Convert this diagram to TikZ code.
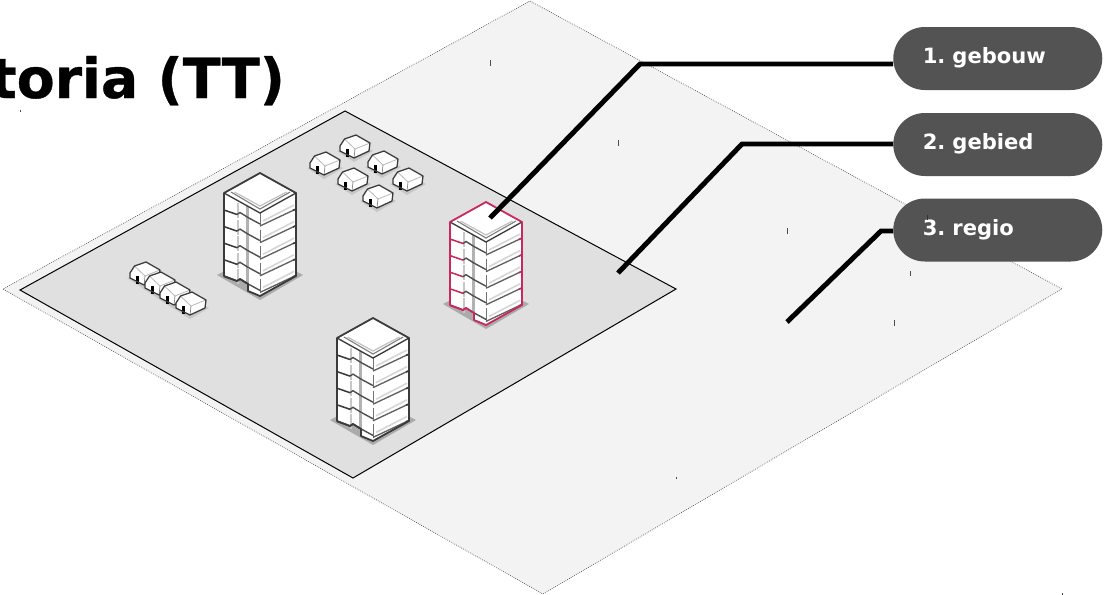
\documentclass[tikz,border=0pt]{standalone}
\usepackage{fontspec}
\setmainfont{DejaVu Sans}
\newfontfamily\titlefont[BoldFont={DejaVu Sans Bold},BoldFeatures={FakeBold=0.6}]{DejaVu Sans}
\frenchspacing
\definecolor{regiofill}{HTML}{F3F3F3}
\definecolor{gebiedfill}{HTML}{E0E0E0}
\definecolor{pillfill}{HTML}{535353}
\definecolor{bldline}{HTML}{3A3A3A}
\definecolor{redline}{HTML}{C8285A}
\definecolor{shadowgrey}{HTML}{ABABAB}
\tikzset{
  pill/.style={fill=pillfill,draw=none,rounded corners=31.5*0.75pt,minimum height=63*0.75pt,text=white,font=\bfseries\fontsize{15.8pt}{18pt}\selectfont,anchor=west,align=left,inner xsep=29.5*0.75pt,inner ysep=0pt,text width=150*0.75pt,text height=12pt,text depth=3.8pt},
  leader/.style={draw=black,line width=3.7pt,line join=miter},
  tick/.style={draw=black!70,line width=0.7pt},
  lbl/.style={inner sep=0pt}
}
\newcommand{\building}[3]{%
\begin{scope}[shift={(#1,#2)}]
  \fill[shadowgrey] (-43,102)--(-14,87)--(14,87)--(43,102)--(0,127)--cycle;
  \fill[white] (0,0)--(36,20)--(36,103)--(0,123)--(-12,118)--(-12,111)--(-20,106)--(-23,108)--(-36,103)--(-36,20)--cycle;
  \foreach \k in {0,1,2,3,4}{
    \begin{scope}[yshift={-\k*16.6*0.75pt}]
      \draw[black!22,line width=1.5pt] (-22,30)--(-22,45);
      \draw[black!30,line width=1.6pt] (-12.5,29)--(-12.5,46);
      \draw[black!16,line width=1.2pt] (3,48)--(34,32);
      \draw[black!55,line width=0.5pt] (0,40)--(0,53);
      \draw[bldline!90,line width=1.05pt] (-23,41.5)--(-20,39.5)--(-12,44.5)--(0,51);
      \draw[bldline!80,line width=1pt] (0,53)--(36,36);
      \draw[#3,line width=1.15pt] (-36,37)--(-23,41.5);
      \draw[#3,line width=1.15pt] (33,37.4)--(36.5,36);
    \end{scope}
  }
  \fill[white] (0,0)--(36,20)--(0,40)--(-36,20)--cycle;
  \draw[black!50,line width=0.85pt] (-29,19)--(0,36)--(30,19);
  \draw[black!25,line width=0.85pt] (-25.5,19)--(0,33)--(26.5,19);
  \draw[bldline,line width=1pt] (-36,20)--(0,40)--(36,20);
  \draw[#3,line width=1.35pt,line join=round] (0,0)--(36,20)--(36,103)--(0,123)--(-12,118)--(-12,111)--(-20,106)--(-23,108)--(-36,103)--(-36,20)--cycle;
\end{scope}}
\newcommand{\tent}[2]{%
\begin{scope}[shift={(#1,#2)}]
  \fill[black!22] (-17,-8)--(0,3)--(19,-8)--(10,-13)--cycle;
  \fill[white] (0,-1)--(15,-8)--(16,-16)--(2,-24)--(-9.5,-20)--(-14,-13)--(-14,-8)--cycle;
  \draw[black!28,line width=0.6pt] (-9.5,-20)--(1,-10)--(16,-16);
  \draw[black!50,line width=0.5pt] (1,-10)--(0,-1);
  \fill[black] (-8.5,-10) rectangle (-5,-2.5);
  \draw[bldline,line width=0.95pt,line join=round] (0,-1)--(15,-8)--(16,-16)--(2,-24)--(-9.5,-20)--(-14,-13)--(-14,-8)--cycle;
\end{scope}}
\begin{document}
\begin{tikzpicture}[x=0.75pt,y=-0.75pt]
\useasboundingbox (0,0) rectangle (1105,594);
\begin{scope}
\clip (0,0) rectangle (1105,594);
% regio
\fill[regiofill] (530,1)--(1062,289)--(543,594)--(3,289)--cycle;
\draw[black!75,line width=0.5pt,densely dotted] (530,1)--(1062,289)--(543,594)--(3,289)--cycle;
% gebied
\draw[black,fill=gebiedfill,line width=0.75pt] (345,111)--(676,289)--(353,478)--(20,290)--cycle;
% title
\node[lbl,anchor=base west,font=\titlefont\bfseries\fontsize{41.5pt}{46pt}\selectfont] (title) at (-10,98) {toria (TT)};
% small marks
\draw[tick] (490,60)--(490,66);
\draw[tick] (618,140)--(618,146);
\draw[tick] (787,228)--(787,234);
\draw[tick] (910,271)--(910,276);
\draw[tick] (894,320)--(894,326);
\draw[tick] (676,477)--(676,479);
\draw[tick] (20,110)--(20,112);
\draw[tick] (1062,593)--(1062,595);
% tents
\tent{354}{159}
\tent{324}{176}
\tent{382}{175}
\tent{352}{192}
\tent{407}{192}
\tent{377}{209}
\tent{144}{286}
\tent{159}{296}
\tent{174}{306}
\tent{190}{316}
% buildings
\building{260}{173}{bldline}
\building{486}{202}{redline}
\building{373}{318}{bldline}
\end{scope}
% labels
\node[pill] (p1) at (893,58.5) {1. gebouw};
\node[pill] (p2) at (893,144.5) {2. gebied};
\node[pill] (p3) at (893,230) {3. regio};
\draw[black!80,line width=0.5pt] (927,215)--(927,220);
% leaders
\coordinate (e1) at (490,218);
\coordinate (b1) at (640,64);
\coordinate (e2) at (618,273);
\coordinate (b2) at (742,144);
\coordinate (e3) at (787,322);
\coordinate (b3) at (881,231);
\draw[leader] (e1)--(b1)--(b1-|p1.west);
\draw[leader] (e2)--(b2)--(b2-|p2.west);
\draw[leader] (e3)--(b3)--(b3-|p3.west);
\end{tikzpicture}
\end{document}
